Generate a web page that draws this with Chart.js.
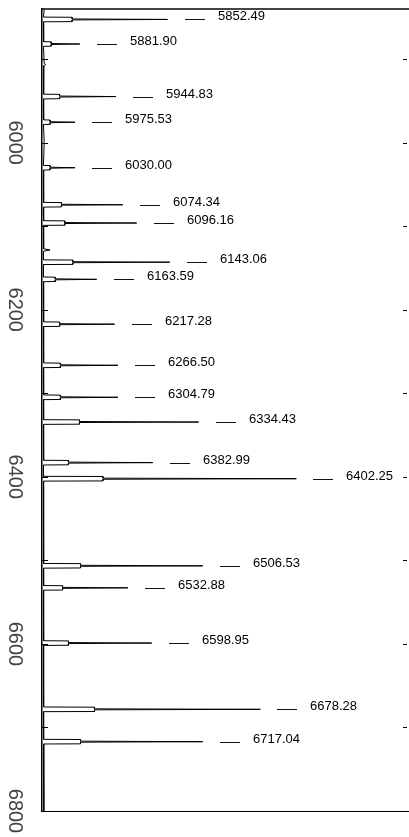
<!DOCTYPE html>
<html>
<head>
<meta charset="utf-8">
<script src="https://cdn.jsdelivr.net/npm/chart.js@4"></script>
<style>
  html, body { margin: 0; padding: 0; background: #fff; }
  canvas { display: block; }
</style>
</head>
<body>
<canvas id="spec" width="409" height="837"></canvas>
<script>
// [wavelength (Å), intensity]
const spectrum = [
  [5840.0, 0.6],
  [5849.7, 0.4], [5849.9, 8.2], [5851.9, 8.2], [5852.49, 34.2], [5853.1, 8.2], [5855.1, 8.2], [5855.3, 0.4],
  [5866.0, 0.5],
  [5879.1, 0.4], [5879.3, 2.5], [5881.3, 2.5], [5881.90, 10.3], [5882.5, 2.5], [5884.5, 2.5], [5884.7, 0.4],
  [5905.0, 0.6], [5906.4, 1.0], [5907.8, 0.5],
  [5925.0, 0.5],
  [5942.0, 0.4], [5942.2, 4.8], [5944.2, 4.8], [5944.83, 20.1], [5945.4, 4.8], [5947.4, 4.8], [5947.6, 0.4],
  [5960.0, 0.5],
  [5972.7, 0.4], [5972.9, 2.2], [5974.9, 2.2], [5975.53, 9.0], [5976.1, 2.2], [5978.1, 2.2], [5978.3, 0.4],
  [6000.0, 0.6],
  [6027.2, 0.4], [6027.4, 2.2], [6029.4, 2.2], [6030.00, 9.0], [6030.6, 2.2], [6032.6, 2.2], [6032.8, 0.4],
  [6050.0, 0.5],
  [6071.5, 0.4], [6071.7, 5.3], [6073.7, 5.3], [6074.34, 22.0], [6074.9, 5.3], [6076.9, 5.3], [6077.1, 0.4],
  [6085.0, 0.5],
  [6093.4, 0.4], [6093.6, 6.2], [6095.6, 6.2], [6096.16, 25.8], [6096.8, 6.2], [6098.8, 6.2], [6099.0, 0.4],
  [6115.0, 0.5],
  [6127.0, 0.4], [6128.45, 2.2], [6129.9, 0.4],
  [6140.3, 0.4], [6140.5, 8.4], [6142.5, 8.4], [6143.06, 34.8], [6143.7, 8.4], [6145.7, 8.4], [6145.9, 0.4],
  [6160.8, 0.4], [6161.0, 3.6], [6163.0, 3.6], [6163.59, 14.9], [6164.2, 3.6], [6166.2, 3.6], [6166.4, 0.4],
  [6190.0, 0.5],
  [6214.5, 0.4], [6214.7, 4.8], [6216.7, 4.8], [6217.28, 19.8], [6217.9, 4.8], [6219.9, 4.8], [6220.1, 0.4],
  [6240.0, 0.5],
  [6263.7, 0.4], [6263.9, 5.0], [6265.9, 5.0], [6266.50, 20.7], [6267.1, 5.0], [6269.1, 5.0], [6269.3, 0.4],
  [6285.0, 0.5],
  [6302.0, 0.4], [6302.2, 5.0], [6304.2, 5.0], [6304.79, 20.7], [6305.4, 5.0], [6307.4, 5.0], [6307.6, 0.4],
  [6318.0, 0.5],
  [6331.6, 0.4], [6331.8, 10.2], [6333.8, 10.2], [6334.43, 42.7], [6335.0, 10.2], [6337.0, 10.2], [6337.2, 0.4],
  [6360.0, 0.5],
  [6380.2, 0.4], [6380.4, 7.2], [6382.4, 7.2], [6382.99, 30.2], [6383.6, 7.2], [6385.6, 7.2], [6385.8, 0.4],
  [6399.4, 0.4], [6399.6, 16.6], [6401.6, 16.6], [6402.25, 69.3], [6402.9, 16.6], [6404.9, 16.6], [6405.1, 0.4],
  [6450.0, 0.5],
  [6503.7, 0.4], [6503.9, 10.5], [6505.9, 10.5], [6506.53, 43.8], [6507.1, 10.5], [6509.1, 10.5], [6509.3, 0.4],
  [6520.0, 0.5],
  [6530.1, 0.4], [6530.3, 5.6], [6532.3, 5.6], [6532.88, 23.4], [6533.5, 5.6], [6535.5, 5.6], [6535.7, 0.4],
  [6565.0, 0.5],
  [6596.2, 0.4], [6596.4, 7.2], [6598.4, 7.2], [6598.95, 29.9], [6599.6, 7.2], [6601.6, 7.2], [6601.8, 0.4],
  [6640.0, 0.5],
  [6675.5, 0.4], [6675.7, 14.3], [6677.7, 14.3], [6678.28, 59.5], [6678.9, 14.3], [6680.9, 14.3], [6681.1, 0.4],
  [6698.0, 0.5],
  [6714.2, 0.4], [6714.4, 10.5], [6716.4, 10.5], [6717.04, 43.8], [6717.6, 10.5], [6719.6, 10.5], [6719.8, 0.4],
  [6760.0, 0.5],
  [6800.0, 0.5],
];

// identified lines: position, peak height, label
const lineWl = [5852.49, 5881.90, 5944.83, 5975.53, 6030.00, 6074.34, 6096.16, 6143.06, 6163.59, 6217.28,
  6266.50, 6304.79, 6334.43, 6382.99, 6402.25, 6506.53, 6532.88, 6598.95, 6678.28, 6717.04];
const lineTip = [34.2, 10.3, 20.1, 9.0, 9.0, 22.0, 25.8, 34.8, 14.9, 19.8,
  20.7, 20.7, 42.7, 30.2, 69.3, 43.8, 23.4, 29.9, 59.5, 43.8];
const lineLabels = ["5852.49", "5881.90", "5944.83", "5975.53", "6030.00", "6074.34", "6096.16", "6143.06",
  "6163.59", "6217.28", "6266.50", "6304.79", "6334.43", "6382.99", "6402.25", "6506.53", "6532.88",
  "6598.95", "6678.28", "6717.04"];

const yTickValues = [5900, 6000, 6100, 6200, 6300, 6400, 6500, 6600, 6700, 6800];
const yLabelValues = [6000, 6200, 6400, 6600, 6800];

const WL_MIN = 5840;
const WL_MAX = 6800;

// dash + wavelength text to the right of each line tip, plus inward tick marks
const lineLabelPlugin = {
  id: "lineLabels",
  afterDraw(chart) {
    const { ctx, chartArea } = chart;
    const xs = chart.scales.x;
    const ys = chart.scales.y;
    ctx.save();
    ctx.strokeStyle = "#000";
    ctx.lineWidth = 1;
    yTickValues.forEach((v) => {
      const py = Math.round(ys.getPixelForValue(v)) + 0.5;
      ctx.beginPath();
      ctx.moveTo(chartArea.left, py);
      ctx.lineTo(chartArea.left + 6, py);
      ctx.moveTo(chartArea.right - 6, py);
      ctx.lineTo(chartArea.right - 2, py);
      ctx.stroke();
    });

    ctx.font = "13px 'Liberation Sans', Arial, sans-serif";
    ctx.fillStyle = "#000";
    ctx.textAlign = "left";
    ctx.textBaseline = "alphabetic";
    ctx.strokeStyle = "#111";
    lineWl.forEach((wl, i) => {
      const px = Math.round(xs.getPixelForValue(lineTip[i]));
      const py = ys.getPixelForValue(wl);
      const dy = Math.round(py) + 0.5;
      ctx.beginPath();
      ctx.moveTo(px + 17, dy);
      ctx.lineTo(px + 37, dy);
      ctx.stroke();
      ctx.fillText(lineLabels[i], px + 50, py + 1);
    });
    ctx.restore();
  },
};

new Chart(document.getElementById("spec"), {
  type: "scatter",
  data: {
    datasets: [
      {
        data: spectrum.map(([w, v]) => ({ x: v, y: w })),
        showLine: true,
        borderColor: "#000",
        borderWidth: 1,
        pointRadius: 0,
        tension: 0,
      },
    ],
  },
  options: {
    responsive: false,
    animation: false,
    layout: { padding: 0 },
    plugins: {
      legend: { display: false },
      tooltip: { enabled: false },
    },
    scales: {
      x: {
        type: "linear",
        position: "bottom",
        min: 0,
        max: 100,
        grid: { display: false, drawTicks: false },
        border: { display: true, color: "#000", width: 1 },
        ticks: { display: false },
        afterFit: (s) => {
          s.height = 26;
          s.paddingLeft = 0;
          s.paddingRight = 0;
        },
      },
      xTop: {
        type: "linear",
        position: "top",
        min: 0,
        max: 100,
        grid: { display: false, drawTicks: false },
        border: { display: true, color: "#444", width: 2 },
        ticks: { display: false },
        afterFit: (s) => {
          s.height = 9;
          s.paddingLeft = 0;
          s.paddingRight = 0;
        },
      },
      y: {
        type: "linear",
        position: "left",
        reverse: true,
        min: WL_MIN,
        max: WL_MAX,
        afterBuildTicks: (s) => {
          s.ticks = yTickValues.map((v) => ({ value: v }));
        },
        afterFit: (s) => {
          s.width = 42;
          s.paddingTop = 0;
          s.paddingBottom = 0;
        },
        grid: { display: false, drawTicks: false },
        border: { display: true, color: "#000", width: 1.5 },
        ticks: {
          autoSkip: false,
          minRotation: -90,
          maxRotation: -90,
          crossAlign: "center",
          padding: 5,
          color: "#444",
          font: { family: "'Liberation Sans', Arial, sans-serif", size: 20 },
          callback: (v) => (yLabelValues.includes(v) ? String(v) : ""),
        },
      },
    },
  },
  plugins: [lineLabelPlugin],
});
</script>
</body>
</html>
